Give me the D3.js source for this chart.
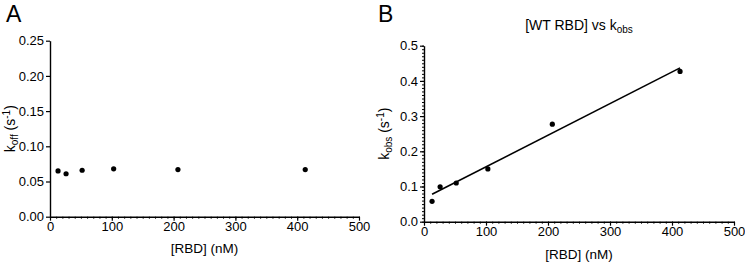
<!DOCTYPE html>
<html>
<head>
<meta charset="utf-8">
<script src="https://cdn.jsdelivr.net/npm/d3@7"></script>
<style>
  body { margin: 0; background: #fff; }
  svg text { font-family: "Liberation Sans", Arial, sans-serif; fill: #000; }
  .axis path, .axis line { stroke: #000; }
</style>
</head>
<body>
<div id="chart"></div>
<script>
// data
var rbd_nM      = [13, 26, 52, 103, 207, 413];
var koff        = [0.065, 0.061, 0.066, 0.068, 0.067, 0.067];
var kobs        = [0.058, 0.099, 0.110, 0.150, 0.277, 0.427];
// straight-line fit shown in panel B (end points)
var fit_x       = [13, 413];
var fit_y       = [0.078, 0.437];

var x_ticks     = [0, 100, 200, 300, 400, 500];
var ya_ticks    = [0, 0.05, 0.10, 0.15, 0.20, 0.25];
var yb_ticks    = [0, 0.1, 0.2, 0.3, 0.4, 0.5];

// --------------------------------------------------------
var chart_width  = 745;
var chart_height = 263;
var font_size    = 13;

var svg = d3.select("#chart")
	.append("svg")
	.attr("width", chart_width)
	.attr("height", chart_height);

// one panel = x axis, y axis, points
function panel(opt) {
	var g = svg.append("g");

	var x_scale = d3.scaleLinear()
		.domain([0, 500])
		.range([opt.left, opt.right]);
	var y_scale = d3.scaleLinear()
		.domain(opt.y_domain)
		.range([opt.bottom, opt.top]);

	// minor ticks on x (every 10)
	var x_minor = d3.axisBottom(x_scale)
		.tickValues(d3.range(0, 501, 10))
		.tickSize(2)
		.tickFormat("");
	g.append("g")
		.attr("class", "axis")
		.attr("transform", "translate(0," + opt.bottom + ")")
		.call(x_minor)
		.call(s => s.select(".domain").remove())
		.selectAll("line").attr("stroke-width", 1);

	var x_axis = d3.axisBottom(x_scale)
		.tickValues(x_ticks)
		.tickSize(4)
		.tickSizeOuter(0)
		.tickPadding(1)
		.tickFormat(d3.format("d"));
	g.append("g")
		.attr("class", "axis")
		.attr("transform", "translate(0," + opt.bottom + ")")
		.call(x_axis)
		.call(s => s.select(".domain").attr("stroke-width", 1.4))
		.call(s => s.selectAll("line").attr("stroke-width", 1.2))
		.call(s => s.selectAll("text").attr("font-size", font_size).attr("font-family", null));

	if (opt.y_minor) {
		var y_minor = d3.axisLeft(y_scale)
			.tickValues(d3.range(0, 0.5001, 0.01))
			.tickSize(2)
			.tickFormat("");
		g.append("g")
			.attr("class", "axis")
			.attr("transform", "translate(" + opt.left + ",0)")
			.call(y_minor)
			.call(s => s.select(".domain").remove())
			.selectAll("line").attr("stroke-width", 1);
	}

	var y_axis = d3.axisLeft(y_scale)
		.tickValues(opt.y_ticks)
		.tickSize(4)
		.tickSizeOuter(0)
		.tickPadding(2)
		.tickFormat(d3.format(opt.y_format));
	g.append("g")
		.attr("class", "axis")
		.attr("transform", "translate(" + opt.left + ",0)")
		.call(y_axis)
		.call(s => s.select(".domain").attr("stroke-width", 1.4))
		.call(s => s.selectAll("line").attr("stroke-width", 1.2))
		.call(s => s.selectAll("text").attr("font-size", font_size).attr("font-family", null));

	// x label
	g.append("text")
		.attr("x", (opt.left + opt.right) / 2)
		.attr("y", opt.x_label_y)
		.attr("text-anchor", "middle")
		.attr("font-size", 13.5)
		.text("[RBD] (nM)");

	// y label: k_sub (s^-1)
	var yl = g.append("text")
		.attr("transform", "translate(" + opt.y_label_x + "," + ((opt.top + opt.bottom) / 2) + ") rotate(-90)")
		.attr("text-anchor", "middle")
		.attr("font-size", 14);
	yl.append("tspan").text("k");
	yl.append("tspan").attr("font-size", 10).attr("dy", 3).text(opt.sub);
	yl.append("tspan").attr("dy", -3).text(" (s");
	yl.append("tspan").attr("font-size", 10).attr("dy", -5).text("-1");
	yl.append("tspan").attr("dy", 5).text(")");

	// panel letter
	g.append("text")
		.attr("x", opt.letter_x)
		.attr("y", 22)
		.attr("font-size", 23)
		.text(opt.letter);

	if (opt.fit) {
		g.append("line")
			.attr("x1", x_scale(fit_x[0]))
			.attr("y1", y_scale(fit_y[0]))
			.attr("x2", x_scale(fit_x[1]))
			.attr("y2", y_scale(fit_y[1]))
			.attr("stroke", "#000")
			.attr("stroke-width", 1.6);
	}

	g.append("g")
		.selectAll("circle")
		.data(d3.zip(rbd_nM, opt.values))
		.enter()
		.append("circle")
		.attr("cx", d => x_scale(d[0]))
		.attr("cy", d => y_scale(d[1]))
		.attr("r", 2.6)
		.attr("fill", "#000");

	return g;
}

panel({
	left: 50, right: 359, top: 40.7, bottom: 216.7,
	y_domain: [0, 0.25], y_ticks: ya_ticks, y_format: ".2f",
	values: koff, sub: "off", letter: "A", letter_x: 6,
	x_label_y: 253, y_label_x: 15, y_minor: false, fit: false
});

var pb = panel({
	left: 424, right: 734, top: 45.7, bottom: 221.7,
	y_domain: [0, 0.5], y_ticks: yb_ticks, y_format: ".1f",
	values: kobs, sub: "obs", letter: "B", letter_x: 378,
	x_label_y: 259, y_label_x: 389, y_minor: true, fit: true
});

// title of panel B
var title = pb.append("text")
	.attr("x", 579)
	.attr("y", 30)
	.attr("text-anchor", "middle")
	.attr("font-size", 14);
title.append("tspan").text("[WT RBD] vs k");
title.append("tspan").attr("font-size", 10).attr("dy", 3).text("obs");
</script>
</body>
</html>
